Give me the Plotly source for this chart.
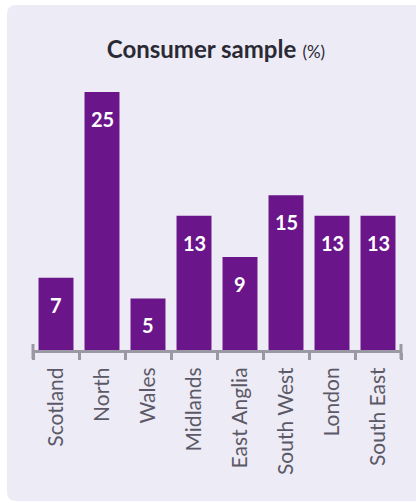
import plotly.graph_objects as go

# Regional split of the consumer sample, in percent
regions = ["Scotland", "North", "Wales", "Midlands", "East Anglia",
           "South West", "London", "South East"]
shares = [7, 25, 5, 13, 9, 15, 13, 13]

PURPLE = "#6a1589"
PANEL = "#edebf5"
AXIS_GREY = "#9a98a3"
LABEL_GREY = "#5b5967"
TITLE_INK = "#2a2a35"

W, H = 416, 503
ML, MR, MT, MB = 33, 15, 92, 153
PW, PH = W - ML - MR, H - MT - MB


def px_x(px):
    return (px - ML) / PW


def px_y(py):
    return (H - MB - py) / PH


fig = go.Figure(
    go.Bar(
        x=regions,
        y=shares,
        marker=dict(color=PURPLE, line=dict(width=0)),
        hoverinfo="x+y",
    )
)

# value labels in white, just under the top of each bar
for r, v in zip(regions, shares):
    fig.add_annotation(
        x=r, y=v, text=f"<b>{v}</b>", showarrow=False,
        yanchor="top", yshift=-13,
        font=dict(family="Lato", size=20, color="white"),
    )

# rounded background card
x0, x1 = px_x(7), px_x(425)
y0, y1 = px_y(501), px_y(5)
rx, ry = 9 / PW, 9 / PH
card = (
    f"M {x0 + rx},{y1} L {x1 - rx},{y1} Q {x1},{y1} {x1},{y1 - ry} "
    f"L {x1},{y0 + ry} Q {x1},{y0} {x1 - rx},{y0} "
    f"L {x0 + rx},{y0} Q {x0},{y0} {x0},{y0 + ry} "
    f"L {x0},{y1 - ry} Q {x0},{y1} {x0 + rx},{y1} Z"
)
shapes = [
    dict(type="path", path=card, xref="paper", yref="paper",
         fillcolor=PANEL, line=dict(width=0), layer="below"),
]
# end caps of the category axis
for xp in (0, 1):
    shapes.append(dict(type="line", xref="paper", yref="paper",
                       x0=xp, x1=xp, y0=px_y(344), y1=px_y(359),
                       line=dict(color=AXIS_GREY, width=3)))

fig.update_layout(
    width=W, height=H,
    margin=dict(l=ML, r=MR, t=MT, b=MB, pad=0),
    paper_bgcolor="white",
    plot_bgcolor="rgba(0,0,0,0)",
    bargap=0.24,
    showlegend=False,
    shapes=shapes,
    font=dict(family="Lato"),
    title=dict(
        text="<b>Consumer sample</b> <span style='font-size:17px'>(%)</span>",
        x=px_x(216), xref="paper", xanchor="center",
        y=1 - 50 / H, yanchor="middle",
        font=dict(family="Lato", size=24, color=TITLE_INK),
    ),
    xaxis=dict(
        type="category",
        range=[-0.5, len(regions) - 0.5],
        showline=True, linecolor=AXIS_GREY, linewidth=3,
        ticks="outside", tickson="boundaries", ticklen=7,
        tickwidth=3, tickcolor=AXIS_GREY,
        tickangle=-90, ticklabelstandoff=6,
        tickfont=dict(family="Lato", size=21, color=LABEL_GREY),
        showgrid=False, zeroline=False, fixedrange=True,
    ),
    yaxis=dict(
        range=[0, 25], visible=False, showgrid=False,
        zeroline=False, fixedrange=True,
    ),
)

fig.write_html("out.html")
